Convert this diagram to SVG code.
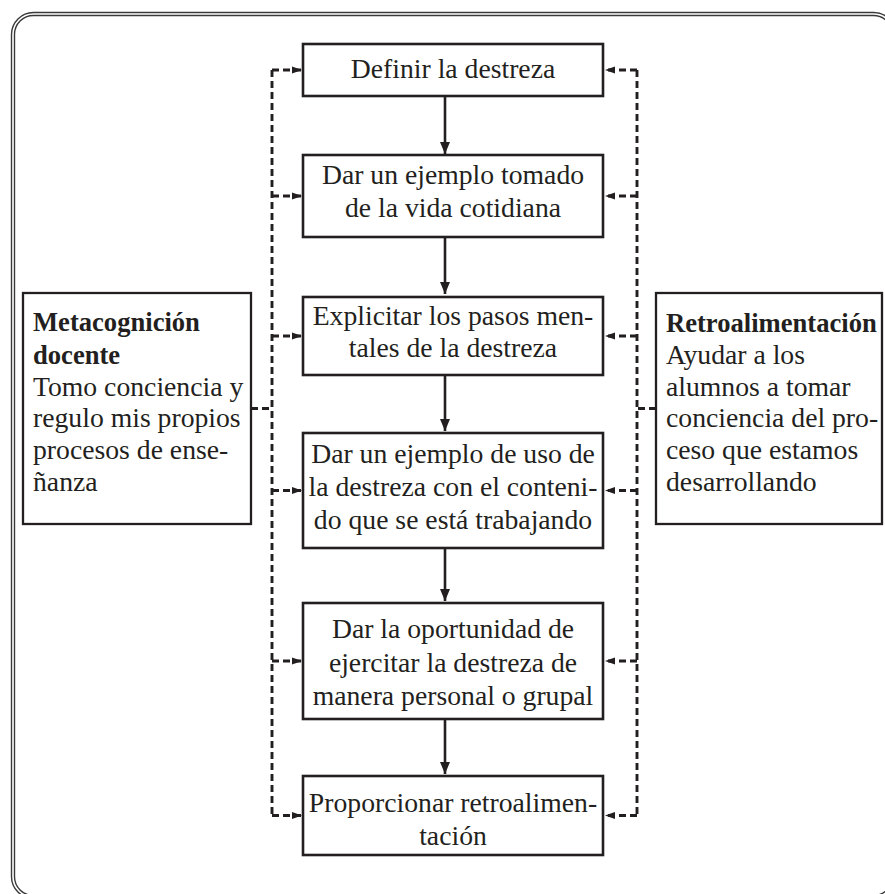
<svg xmlns="http://www.w3.org/2000/svg" width="885" height="894" viewBox="0 0 885 894">
<defs>
<style>
.frame{fill:none;stroke:#3a3a3a;stroke-width:1.4}
.box{fill:#fff;stroke:#231f20;stroke-width:2.6}
.side{fill:#fff;stroke:#231f20;stroke-width:2.3}
.t{font-family:"Liberation Serif","DejaVu Serif",serif;font-size:27.7px;fill:#231f20}
.c{text-anchor:middle}
.b{font-weight:bold;font-size:26.6px}
.solid{fill:none;stroke:#231f20;stroke-width:2.6}
.dash{fill:none;stroke:#231f20;stroke-width:2.9;stroke-dasharray:7 4}
</style>
<marker id="big" markerUnits="userSpaceOnUse" markerWidth="12" markerHeight="14" refX="12" refY="7" orient="auto">
<path d="M0,2 L12,7 L0,12 z" fill="#231f20"/>
</marker>
<marker id="small" markerUnits="userSpaceOnUse" markerWidth="10" markerHeight="8" refX="10" refY="4" orient="auto">
<path d="M0,0.5 L10,4 L0,7.5 z" fill="#231f20"/>
</marker>
</defs>
<rect width="885" height="894" fill="#fff"/>
<g id="frame">
<rect class="frame" x="11.5" y="12.5" width="884" height="886" rx="22"/>
<rect class="frame" x="14.5" y="15.5" width="878" height="880" rx="19"/>
</g>
<g id="connectors">
<path class="solid" d="M445 96 V154" marker-end="url(#big)"/>
<path class="solid" d="M445 237 V294" marker-end="url(#big)"/>
<path class="solid" d="M445 375 V431" marker-end="url(#big)"/>
<path class="solid" d="M445 548 V601" marker-end="url(#big)"/>
<path class="solid" d="M445 719 V774" marker-end="url(#big)"/>
<path class="dash" d="M272 70 V815.5"/>
<path class="dash" d="M272 70 H302" marker-end="url(#small)"/>
<path class="dash" d="M272 196 H302" marker-end="url(#small)"/>
<path class="dash" d="M272 336 H302" marker-end="url(#small)"/>
<path class="dash" d="M272 490.5 H302" marker-end="url(#small)"/>
<path class="dash" d="M272 661 H302" marker-end="url(#small)"/>
<path class="dash" d="M272 815.5 H302" marker-end="url(#small)"/>
<path class="dash" d="M251 408.5 H272"/>
<path class="dash" d="M637 70 V815.5"/>
<path class="dash" d="M637 70 H605" marker-end="url(#small)"/>
<path class="dash" d="M637 196 H605" marker-end="url(#small)"/>
<path class="dash" d="M637 336 H605" marker-end="url(#small)"/>
<path class="dash" d="M637 490.5 H605" marker-end="url(#small)"/>
<path class="dash" d="M637 661 H605" marker-end="url(#small)"/>
<path class="dash" d="M637 815.5 H605" marker-end="url(#small)"/>
<path class="dash" d="M656 408.5 H637"/>
</g>
<g id="n1">
<rect class="box" x="303" y="44" width="300" height="52"/>
<text class="t c" x="453" y="78">Definir la destreza</text>
</g>
<g id="n2">
<rect class="box" x="303" y="155" width="300" height="82"/>
<text class="t c" x="453" y="183.5">Dar un ejemplo tomado</text>
<text class="t c" x="453" y="217">de la vida cotidiana</text>
</g>
<g id="n3">
<rect class="box" x="303" y="297" width="300" height="78"/>
<text class="t c" x="453" y="325">Explicitar los pasos men-</text>
<text class="t c" x="453" y="357">tales de la destreza</text>
</g>
<g id="n4">
<rect class="box" x="303" y="433" width="300" height="115"/>
<text class="t c" x="453" y="463">Dar un ejemplo de uso de</text>
<text class="t c" x="453" y="496">la destreza con el conteni-</text>
<text class="t c" x="453" y="528.5">do que se está trabajando</text>
</g>
<g id="n5">
<rect class="box" x="303" y="603" width="300" height="116"/>
<text class="t c" x="453" y="638">Dar la oportunidad de</text>
<text class="t c" x="453" y="671.5">ejercitar la destreza de</text>
<text class="t c" x="453" y="705">manera personal o grupal</text>
</g>
<g id="n6">
<rect class="box" x="303" y="776" width="300" height="79"/>
<text class="t c" x="453" y="811.5">Proporcionar retroalimen-</text>
<text class="t c" x="453" y="845">tación</text>
</g>
<g id="metacognicion">
<rect class="side" x="23" y="293" width="228" height="231"/>
<text class="t b" x="33" y="331">Metacognición</text>
<text class="t b" x="33" y="363.5">docente</text>
<text class="t" x="33" y="395.5">Tomo conciencia y</text>
<text class="t" x="33" y="427">regulo mis propios</text>
<text class="t" x="33" y="459">procesos de ense-</text>
<text class="t" x="33" y="491">ñanza</text>
</g>
<g id="retroalimentacion">
<rect class="side" x="656" y="293" width="226" height="231"/>
<text class="t b" x="666" y="332">Retroalimentación</text>
<text class="t" x="666" y="363.5">Ayudar a los</text>
<text class="t" x="666" y="395.5">alumnos a tomar</text>
<text class="t" x="666" y="427">conciencia del pro-</text>
<text class="t" x="666" y="459">ceso que estamos</text>
<text class="t" x="666" y="491">desarrollando</text>
</g>
</svg>
